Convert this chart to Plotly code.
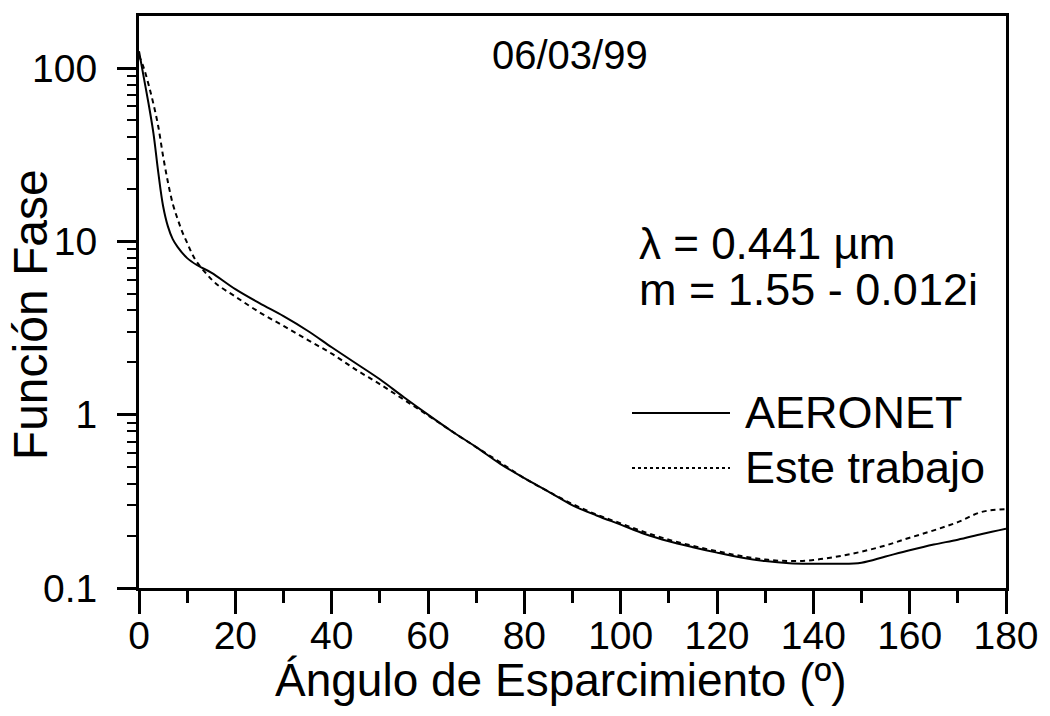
import plotly.graph_objects as go

# Scattering angle (degrees) and phase function values
angle_aeronet = [0, 1, 2, 3, 4, 5, 6, 7, 8, 10, 12, 15, 20, 25, 30, 35, 40, 45,
                 50, 55, 60, 65, 70, 75, 80, 85, 90, 95, 100, 105, 110, 115, 120,
                 125, 130, 135, 140, 145, 150, 155, 160, 165, 170, 175, 180]
phase_aeronet = [125, 88, 62, 42, 25, 16, 12.2, 10.3, 9.3, 8.0, 7.3, 6.6, 5.3,
                 4.4, 3.7, 3.05, 2.45, 1.98, 1.6, 1.26, 1.0, 0.8, 0.65, 0.52,
                 0.43, 0.36, 0.30, 0.262, 0.232, 0.205, 0.186, 0.172, 0.16,
                 0.15, 0.143, 0.139, 0.138, 0.138, 0.14, 0.152, 0.165, 0.178,
                 0.19, 0.205, 0.22]

angle_model = [0, 1, 2, 3, 4, 5, 6, 7, 8, 9, 10, 11, 12, 14, 16, 20, 25, 30, 35,
               40, 45, 50, 55, 60, 65, 70, 75, 80, 85, 90, 95, 100, 105, 110,
               115, 120, 125, 130, 135, 140, 145, 150, 155, 160, 165, 170, 175,
               180]
phase_model = [118, 100, 80, 62, 46, 31, 22, 16.5, 13.5, 11.3, 9.8, 8.5, 7.6,
               6.5, 5.7, 4.8, 3.9, 3.25, 2.7, 2.25, 1.82, 1.5, 1.22, 0.99, 0.8,
               0.65, 0.53, 0.43, 0.36, 0.305, 0.265, 0.236, 0.21, 0.19, 0.175,
               0.163, 0.153, 0.146, 0.143, 0.145, 0.152, 0.162, 0.176, 0.195,
               0.215, 0.24, 0.275, 0.285]

x_ticks = [0, 20, 40, 60, 80, 100, 120, 140, 160, 180]
y_ticks = [0.1, 1, 10, 100]
y_tick_text = ["0.1", "1", "10", "100"]
y_minor = [m * d for d in (0.1, 1, 10, 100) for m in range(2, 10)]

FONT = "Liberation Sans, Arial, sans-serif"

fig = go.Figure()
fig.add_trace(go.Scatter(x=angle_aeronet, y=phase_aeronet, mode="lines",
                         line=dict(color="black", width=2), name="AERONET",
                         line_shape="spline"))
fig.add_trace(go.Scatter(x=angle_model, y=phase_model, mode="lines",
                         line=dict(color="black", width=2, dash="5px,4px"),
                         name="Este trabajo", line_shape="spline"))

fig.update_layout(
    width=1050, height=716,
    margin=dict(l=139, r=44, t=16, b=128),
    paper_bgcolor="white", plot_bgcolor="white",
    showlegend=False,
    font=dict(family=FONT, color="black", size=40),
)

fig.update_xaxes(
    range=[0, 180], showgrid=False, zeroline=False,
    showline=True, linecolor="black", linewidth=3, mirror=True,
    tickvals=x_ticks, ticks="outside", ticklen=23, tickwidth=3,
    tickcolor="black", ticklabelstandoff=-12,
    tickfont=dict(family=FONT, size=39),
    minor=dict(dtick=10, ticks="outside", ticklen=12, tickwidth=3,
               tickcolor="black", showgrid=False),
)
fig.update_yaxes(
    type="log", range=[-1, 2.3], showgrid=False, zeroline=False,
    showline=True, linecolor="black", linewidth=3, mirror=True,
    tickvals=y_ticks, ticktext=y_tick_text, ticks="outside", ticklen=19,
    tickwidth=3, tickcolor="black", ticklabelstandoff=12,
    tickfont=dict(family=FONT, size=39),
    minor=dict(tickvals=y_minor, ticks="outside", ticklen=9, tickwidth=2,
               tickcolor="black", showgrid=False),
)

# Axis titles
fig.add_annotation(text="Ángulo de Esparcimiento (º)", xref="paper", yref="paper",
                   x=0.487, y=-0.161, showarrow=False, xanchor="center",
                   yanchor="middle", font=dict(family=FONT, size=46))
fig.add_annotation(text="Función Fase", xref="paper", yref="paper",
                   x=-0.1257, y=0.477, showarrow=False, textangle=-90,
                   xanchor="center", yanchor="middle",
                   font=dict(family=FONT, size=48))

# Date and parameters
fig.add_annotation(text="06/03/99", xref="paper", yref="paper", x=0.497, y=0.932,
                   showarrow=False, xanchor="center", yanchor="middle",
                   font=dict(family=FONT, size=40))
fig.add_annotation(text="λ = 0.441 µm", xref="paper", yref="paper", x=0.574,
                   y=0.603, showarrow=False, xanchor="left", yanchor="middle",
                   font=dict(family=FONT, size=44))
fig.add_annotation(text="m = 1.55 - 0.012i", xref="paper", yref="paper", x=0.574,
                   y=0.521, showarrow=False, xanchor="left", yanchor="middle",
                   font=dict(family=FONT, size=45))

# Legend drawn inside the plot
leg_x0 = (632 - 139) / 867
leg_x1 = (730 - 139) / 867
leg_tx = (743 - 139) / 867
for label, ypos, dash in [("AERONET", 0.306, "solid"), ("Este trabajo", 0.2098, "dot")]:
    fig.add_shape(type="line", xref="paper", yref="paper", x0=leg_x0, x1=leg_x1,
                  y0=ypos, y1=ypos, line=dict(color="black", width=2, dash=dash))
    fig.add_annotation(text=label, xref="paper", yref="paper", x=leg_tx, y=ypos,
                       showarrow=False, xanchor="left", yanchor="middle",
                       font=dict(family=FONT, size=45))

fig.write_html("out.html")
